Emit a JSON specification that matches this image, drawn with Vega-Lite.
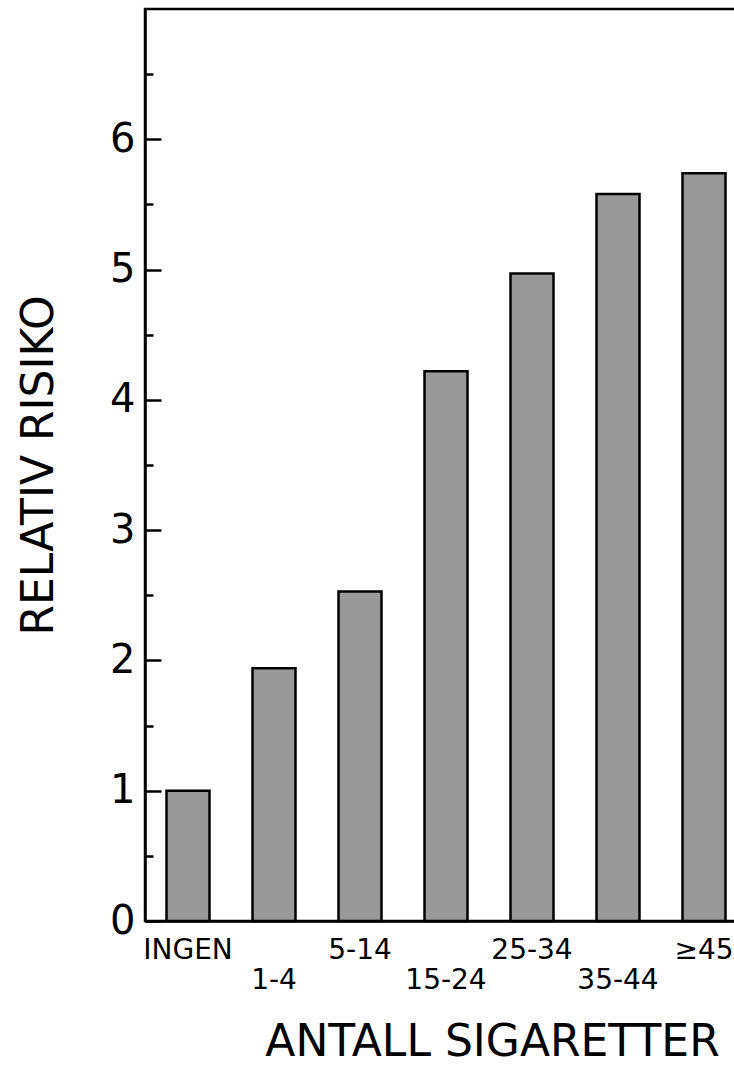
{
  "$schema": "https://vega.github.io/schema/vega-lite/v6.json",
  "width": 602,
  "height": 912,
  "autosize": {"type": "none"},
  "padding": {"left": 145, "top": 9, "right": 0, "bottom": 144},
  "background": "white",
  "config": {
    "view": {"stroke": "black", "strokeWidth": 2.5},
    "font": "DejaVu Sans"
  },
  "data": {
    "values": [
      {"antall": "INGEN", "risiko": 1.0},
      {"antall": "1-4", "risiko": 1.94},
      {"antall": "5-14", "risiko": 2.53},
      {"antall": "15-24", "risiko": 4.22},
      {"antall": "25-34", "risiko": 4.97},
      {"antall": "35-44", "risiko": 5.58},
      {"antall": "≥45", "risiko": 5.74}
    ]
  },
  "resolve": {"axis": {"y": "independent"}},
  "layer": [
    {
      "mark": {"type": "bar", "fill": "#999999", "stroke": "black", "strokeWidth": 2.5},
      "encoding": {
        "x": {
          "field": "antall",
          "type": "nominal",
          "sort": null,
          "scale": {"paddingInner": 0.5, "paddingOuter": 0.25},
          "axis": {
            "title": "ANTALL SIGARETTER",
            "titleFont": "DejaVu Sans",
            "titleFontSize": 44,
            "titleFontWeight": "normal",
            "titleColor": "black",
            "titleX": 347,
            "titleY": 134,
            "titleAlign": "center",
            "titleBaseline": "alphabetic",
            "labelAngle": 0,
            "labelFont": "DejaVu Sans",
            "labelFontSize": 28,
            "labelColor": "black",
            "labelPadding": 15,
            "labelBaseline": "top",
            "labelLineHeight": 30,
            "labelExpr": "indexof(['1-4','15-24','35-44'], datum.value) >= 0 ? ['', datum.label] : datum.label",
            "ticks": false,
            "tickSize": 0,
            "grid": false,
            "domainColor": "black",
            "domainWidth": 2.5
          }
        },
        "y": {
          "field": "risiko",
          "type": "quantitative",
          "scale": {"domain": [0, 7], "nice": false},
          "axis": {
            "title": "RELATIV RISIKO",
            "titleFont": "DejaVu Sans",
            "titleFontSize": 44,
            "titleFontWeight": "normal",
            "titleColor": "black",
            "titleX": -93,
            "titleY": 456,
            "titleAlign": "center",
            "titleBaseline": "alphabetic",
            "values": [0, 1, 2, 3, 4, 5, 6],
            "labelFont": "DejaVu Sans",
            "labelFontSize": 40,
            "labelColor": "black",
            "labelPadding": 10,
            "ticks": false,
            "tickSize": 0,
            "grid": true,
            "gridColor": "black",
            "gridWidth": 2.5,
            "gridOpacity": 1,
            "gridDash": [16, 3000],
            "domainColor": "black",
            "domainWidth": 2.5
          }
        }
      }
    },
    {
      "mark": {"type": "point", "opacity": 0},
      "encoding": {
        "y": {
          "field": "risiko",
          "type": "quantitative",
          "axis": {
            "orient": "left",
            "offset": -8,
            "title": null,
            "labels": false,
            "domain": false,
            "grid": false,
            "values": [0.5, 1.5, 2.5, 3.5, 4.5, 5.5, 6.5],
            "tickColor": "black",
            "tickWidth": 2.5,
            "tickSize": 8
          }
        }
      }
    }
  ]
}
